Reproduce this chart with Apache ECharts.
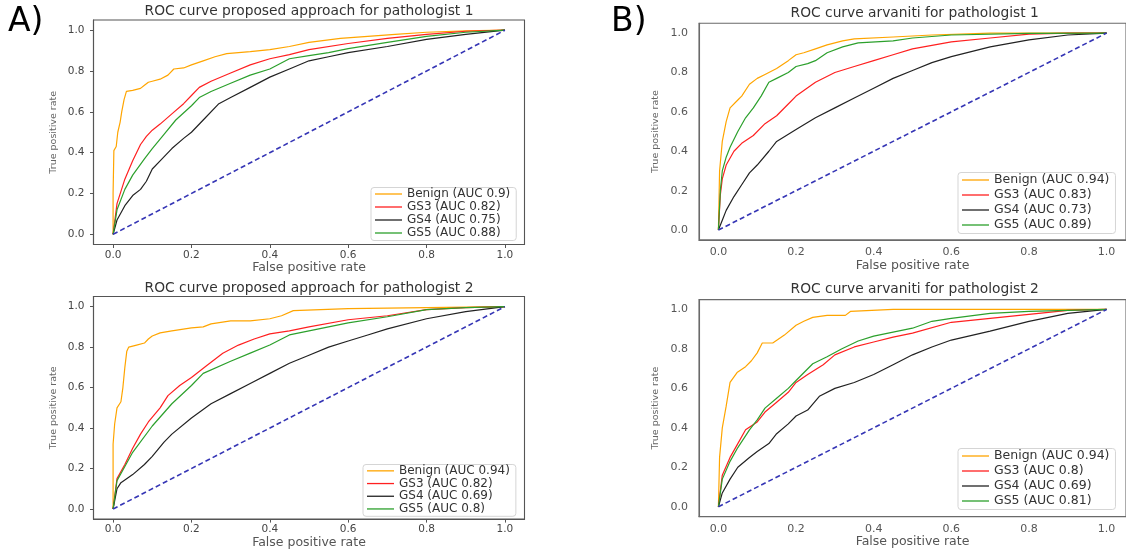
<!DOCTYPE html>
<html>
<head>
<meta charset="utf-8">
<script src="https://cdn.jsdelivr.net/npm/echarts@6/dist/echarts.min.js"></script>
<style>
html,body{margin:0;padding:0;background:#fff;}
#chart{width:1126px;height:550px;}
</style>
</head>
<body>
<div id="chart"></div>
<script>
// ---------------- data ----------------
const tickValues = [0, 0.2, 0.4, 0.6, 0.8, 1.0];
const diagonal = [[0, 0], [1, 1]];

const panelTitles = [
  'ROC curve proposed approach for pathologist 1',
  'ROC curve proposed approach for pathologist 2',
  'ROC curve arvaniti for pathologist 1',
  'ROC curve arvaniti for pathologist 2'
];
const panelLetters = ['A)', 'B)'];

const a1Names = ['Benign (AUC 0.9)', 'GS3 (AUC 0.82)', 'GS4 (AUC 0.75)', 'GS5 (AUC 0.88)'];
const a2Names = ['Benign (AUC 0.94)', 'GS3 (AUC 0.82)', 'GS4 (AUC 0.69)', 'GS5 (AUC 0.8)'];
const b1Names = ['Benign (AUC 0.94)', 'GS3 (AUC 0.83)', 'GS4 (AUC 0.73)', 'GS5 (AUC 0.89)'];
const b2Names = ['Benign (AUC 0.94)', 'GS3 (AUC 0.8)', 'GS4 (AUC 0.69)', 'GS5 (AUC 0.81)'];

const a1Benign = [[0,0],[0,0.2],[0.002,0.41],[0.008,0.43],[0.012,0.5],[0.018,0.55],[0.022,0.6],[0.028,0.66],[0.034,0.7],[0.05,0.705],[0.07,0.715],[0.08,0.73],[0.09,0.745],[0.1,0.75],[0.12,0.76],[0.14,0.78],[0.155,0.81],[0.18,0.815],[0.2,0.83],[0.23,0.85],[0.26,0.87],[0.29,0.885],[0.35,0.895],[0.4,0.905],[0.45,0.92],[0.5,0.94],[0.58,0.96],[0.65,0.97],[0.72,0.98],[0.8,0.99],[0.9,0.997],[1,1]];
const a1GS3 = [[0,0],[0.01,0.15],[0.03,0.27],[0.05,0.36],[0.07,0.44],[0.085,0.48],[0.1,0.51],[0.12,0.54],[0.15,0.59],[0.18,0.64],[0.2,0.68],[0.22,0.72],[0.25,0.75],[0.3,0.79],[0.35,0.83],[0.4,0.86],[0.45,0.88],[0.5,0.905],[0.6,0.935],[0.7,0.96],[0.8,0.98],[0.9,0.995],[1,1]];
const a1GS4 = [[0,0],[0.01,0.07],[0.03,0.14],[0.05,0.19],[0.07,0.22],[0.085,0.26],[0.1,0.32],[0.12,0.36],[0.15,0.42],[0.18,0.47],[0.2,0.5],[0.23,0.56],[0.27,0.64],[0.3,0.67],[0.35,0.72],[0.4,0.77],[0.45,0.81],[0.5,0.85],[0.55,0.87],[0.6,0.89],[0.7,0.92],[0.8,0.955],[0.9,0.98],[1,1]];
const a1GS5 = [[0,0],[0.01,0.12],[0.03,0.22],[0.05,0.29],[0.08,0.37],[0.1,0.42],[0.13,0.49],[0.16,0.56],[0.2,0.63],[0.22,0.67],[0.25,0.7],[0.3,0.74],[0.35,0.78],[0.4,0.81],[0.45,0.86],[0.5,0.875],[0.55,0.89],[0.6,0.91],[0.7,0.94],[0.8,0.97],[0.9,0.99],[1,1]];

const a2Benign = [[0,0],[0,0.32],[0.004,0.42],[0.01,0.5],[0.02,0.53],[0.025,0.6],[0.03,0.7],[0.035,0.78],[0.04,0.8],[0.06,0.81],[0.08,0.82],[0.09,0.84],[0.1,0.855],[0.12,0.87],[0.15,0.88],[0.2,0.895],[0.23,0.9],[0.25,0.915],[0.3,0.93],[0.35,0.93],[0.4,0.94],[0.43,0.955],[0.46,0.98],[0.6,0.99],[0.8,0.995],[1,1]];
const a2GS3 = [[0,0],[0.01,0.15],[0.03,0.22],[0.05,0.3],[0.07,0.37],[0.09,0.43],[0.12,0.5],[0.14,0.56],[0.17,0.61],[0.2,0.65],[0.24,0.71],[0.28,0.77],[0.32,0.81],[0.36,0.84],[0.4,0.865],[0.45,0.88],[0.5,0.9],[0.6,0.935],[0.7,0.955],[0.8,0.985],[0.9,0.995],[1,1]];
const a2GS4 = [[0,0],[0.01,0.1],[0.02,0.13],[0.05,0.17],[0.08,0.22],[0.1,0.26],[0.13,0.33],[0.15,0.37],[0.2,0.45],[0.25,0.52],[0.3,0.57],[0.35,0.62],[0.4,0.67],[0.45,0.72],[0.5,0.76],[0.55,0.8],[0.6,0.83],[0.65,0.86],[0.7,0.89],[0.8,0.94],[0.9,0.975],[1,1]];
const a2GS5 = [[0,0],[0.01,0.14],[0.03,0.21],[0.05,0.28],[0.1,0.41],[0.15,0.52],[0.2,0.61],[0.23,0.67],[0.3,0.73],[0.35,0.77],[0.4,0.81],[0.45,0.86],[0.5,0.88],[0.6,0.92],[0.7,0.95],[0.8,0.985],[0.9,0.995],[1,1]];

const b1Benign = [[0,0],[0.003,0.3],[0.01,0.45],[0.02,0.55],[0.03,0.62],[0.05,0.66],[0.06,0.68],[0.08,0.74],[0.1,0.77],[0.12,0.79],[0.15,0.82],[0.18,0.86],[0.2,0.89],[0.22,0.9],[0.25,0.92],[0.28,0.94],[0.32,0.96],[0.35,0.97],[0.45,0.98],[0.55,0.99],[0.7,1.0],[1,1]];
const b1GS3 = [[0,0],[0.005,0.18],[0.01,0.26],[0.02,0.33],[0.04,0.4],[0.06,0.44],[0.09,0.48],[0.12,0.54],[0.15,0.58],[0.18,0.64],[0.2,0.68],[0.25,0.75],[0.3,0.8],[0.35,0.83],[0.4,0.86],[0.45,0.89],[0.5,0.92],[0.6,0.955],[0.7,0.975],[0.8,0.995],[0.9,1.0],[1,1]];
const b1GS4 = [[0,0],[0.01,0.05],[0.02,0.1],[0.04,0.17],[0.06,0.23],[0.08,0.29],[0.1,0.33],[0.13,0.4],[0.15,0.45],[0.2,0.51],[0.25,0.57],[0.3,0.62],[0.35,0.67],[0.4,0.72],[0.45,0.77],[0.5,0.81],[0.55,0.85],[0.6,0.88],[0.7,0.93],[0.8,0.965],[0.9,0.99],[1,1]];
const b1GS5 = [[0,0],[0.005,0.2],[0.01,0.3],[0.02,0.37],[0.03,0.42],[0.05,0.5],[0.07,0.57],[0.09,0.62],[0.11,0.68],[0.13,0.75],[0.15,0.77],[0.18,0.8],[0.2,0.83],[0.23,0.845],[0.25,0.86],[0.28,0.9],[0.32,0.93],[0.36,0.95],[0.45,0.96],[0.5,0.975],[0.6,0.99],[0.8,0.998],[1,1]];

const b2Benign = [[0,0],[0.003,0.25],[0.01,0.4],[0.02,0.51],[0.03,0.63],[0.048,0.68],[0.07,0.71],[0.085,0.74],[0.1,0.78],[0.113,0.83],[0.14,0.83],[0.17,0.87],[0.2,0.92],[0.22,0.94],[0.243,0.96],[0.28,0.97],[0.327,0.97],[0.34,0.99],[0.45,1.0],[1,1]];
const b2GS3 = [[0,0],[0.01,0.16],[0.03,0.25],[0.05,0.32],[0.07,0.39],[0.1,0.43],[0.12,0.48],[0.15,0.53],[0.18,0.58],[0.2,0.63],[0.23,0.67],[0.27,0.72],[0.3,0.77],[0.35,0.81],[0.4,0.835],[0.45,0.86],[0.5,0.88],[0.6,0.935],[0.7,0.955],[0.8,0.975],[0.9,0.995],[1,1]];
const b2GS4 = [[0,0],[0.01,0.07],[0.03,0.14],[0.05,0.2],[0.08,0.25],[0.1,0.28],[0.13,0.32],[0.15,0.37],[0.18,0.42],[0.2,0.46],[0.23,0.49],[0.26,0.56],[0.3,0.6],[0.35,0.63],[0.4,0.67],[0.45,0.72],[0.5,0.77],[0.55,0.81],[0.6,0.845],[0.7,0.89],[0.8,0.94],[0.9,0.98],[1,1]];
const b2GS5 = [[0,0],[0.01,0.14],[0.03,0.23],[0.05,0.3],[0.08,0.39],[0.1,0.44],[0.12,0.5],[0.15,0.55],[0.18,0.6],[0.2,0.64],[0.243,0.725],[0.28,0.76],[0.317,0.8],[0.36,0.84],[0.4,0.865],[0.45,0.885],[0.5,0.905],[0.55,0.94],[0.6,0.955],[0.7,0.98],[0.8,0.99],[1,1]];

// ---------------- style / layout ----------------
const FONT = 'DejaVu Sans';
const curveColors = ['#ffa500', '#ff2020', '#222222', '#2ca02c'];
const diagColor = '#3535b5';

const panels = [
  { names: a1Names, data: [a1Benign, a1GS3, a1GS4, a1GS5], title: panelTitles[0], styleB: false,
    grid: {left: 93.5, top: 20, width: 431, height: 224.5},
    legend: {left: 371, top: 187.5, rowH: 13, font: 12} },
  { names: a2Names, data: [a2Benign, a2GS3, a2GS4, a2GS5], title: panelTitles[1], styleB: false,
    grid: {left: 93.5, top: 296.5, width: 431, height: 224},
    legend: {left: 363, top: 464.5, rowH: 12.7, font: 12} },
  { names: b1Names, data: [b1Benign, b1GS3, b1GS4, b1GS5], title: panelTitles[2], styleB: true,
    grid: {left: 699, top: 23.2, width: 433.4, height: 216.7},
    legend: {left: 958, top: 172.5, rowH: 15, font: 12.5} },
  { names: b2Names, data: [b2Benign, b2GS3, b2GS4, b2GS5], title: panelTitles[3], styleB: true,
    grid: {left: 699, top: 299.6, width: 433.4, height: 217},
    legend: {left: 958, top: 448.5, rowH: 15, font: 12.5} }
];

const grids = [], xAxes = [], yAxes = [], series = [], legends = [], graphics = [];

panels.forEach((p, i) => {
  const frameColor = p.styleB ? '#6a6a6a' : '#555';
  const labelColor = p.styleB ? '#555' : '#444';
  grids.push(Object.assign({show: true, borderColor: frameColor, borderWidth: 1.1,
    backgroundColor: 'transparent', containLabel: false}, p.grid));
  const tickCfg = p.styleB
    ? {show: false}
    : {show: true, inside: false, length: 3.5, lineStyle: {color: frameColor, width: 1}, customValues: tickValues};
  const lineCfg = {show: true, onZero: false, lineStyle: {color: frameColor, width: 1.1}};
  xAxes.push({
    type: 'value', gridIndex: i, min: -0.05, max: 1.05, position: 'bottom',
    axisLine: lineCfg, splitLine: {show: false},
    axisTick: tickCfg,
    axisLabel: {customValues: tickValues, formatter: v => v.toFixed(1), color: labelColor,
      fontFamily: FONT, fontSize: p.styleB ? 11 : 10.5, margin: p.styleB ? 7 : 5},
    name: 'False positive rate', nameLocation: 'middle', nameGap: p.styleB ? 19 : 16,
    nameTextStyle: {fontFamily: FONT, fontSize: 12.5, color: '#555'}
  });
  yAxes.push({
    type: 'value', gridIndex: i, min: -0.05, max: 1.05, position: 'left',
    axisLine: lineCfg, splitLine: {show: false},
    axisTick: tickCfg,
    axisLabel: {customValues: tickValues, formatter: v => v.toFixed(1), color: labelColor,
      fontFamily: FONT, fontSize: p.styleB ? 11 : 10.5, margin: p.styleB ? 11 : 9},
    name: 'True positive rate', nameLocation: 'middle', nameGap: p.styleB ? 38 : 35,
    nameTextStyle: {fontFamily: FONT, fontSize: 9.5, color: '#666'}
  });
  p.data.forEach((d, k) => {
    series.push({
      type: 'line', name: p.names[k], xAxisIndex: i, yAxisIndex: i, data: d,
      symbol: 'none', showSymbol: false, smooth: false,
      lineStyle: {color: curveColors[k], width: 1.2}, itemStyle: {color: curveColors[k]},
      emphasis: {disabled: true}, z: 3
    });
  });
  series.push({
    type: 'line', name: 'chance' + i, xAxisIndex: i, yAxisIndex: i, data: diagonal,
    symbol: 'none', showSymbol: false,
    lineStyle: {color: diagColor, width: 1.6, type: [5, 3]}, z: 4, emphasis: {disabled: true}
  });
  legends.push({
    orient: 'vertical', left: p.legend.left, top: p.legend.top, selectedMode: false,
    itemWidth: 27, itemHeight: p.legend.rowH, itemGap: 0, padding: [0, 6, 1, 4],
    backgroundColor: 'rgba(255,255,255,0.9)', borderColor: '#d5d5d5', borderWidth: 1, borderRadius: 3,
    textStyle: {fontFamily: FONT, fontSize: p.legend.font, color: '#333', lineHeight: p.legend.rowH},
    data: p.names.map(n => ({name: n, icon: 'path://M0,0L27,0L27,1.3L0,1.3Z'}))
  });
  graphics.push({
    type: 'text', x: p.grid.left + p.grid.width / 2 - (p.styleB ? 1 : 0),
    y: p.grid.top - (p.styleB ? 10 : 8.5),
    style: {text: p.title, fill: '#333', font: '13.8px "DejaVu Sans"', textAlign: 'center', textVerticalAlign: 'middle'}
  });
});

graphics.push({type: 'text', x: 8, y: 22, style: {text: panelLetters[0], fill: '#000',
  font: '33px "DejaVu Sans"', textAlign: 'left', textVerticalAlign: 'middle'}});
graphics.push({type: 'text', x: 611, y: 22, style: {text: panelLetters[1], fill: '#000',
  font: '33px "DejaVu Sans"', textAlign: 'left', textVerticalAlign: 'middle'}});

const chart = echarts.init(document.getElementById('chart'), null, {renderer: 'canvas'});
chart.setOption({
  backgroundColor: '#fff',
  animation: false,
  grid: grids, xAxis: xAxes, yAxis: yAxes, series: series, legend: legends,
  graphic: graphics,
  tooltip: {show: false}
});
</script>
</body>
</html>
